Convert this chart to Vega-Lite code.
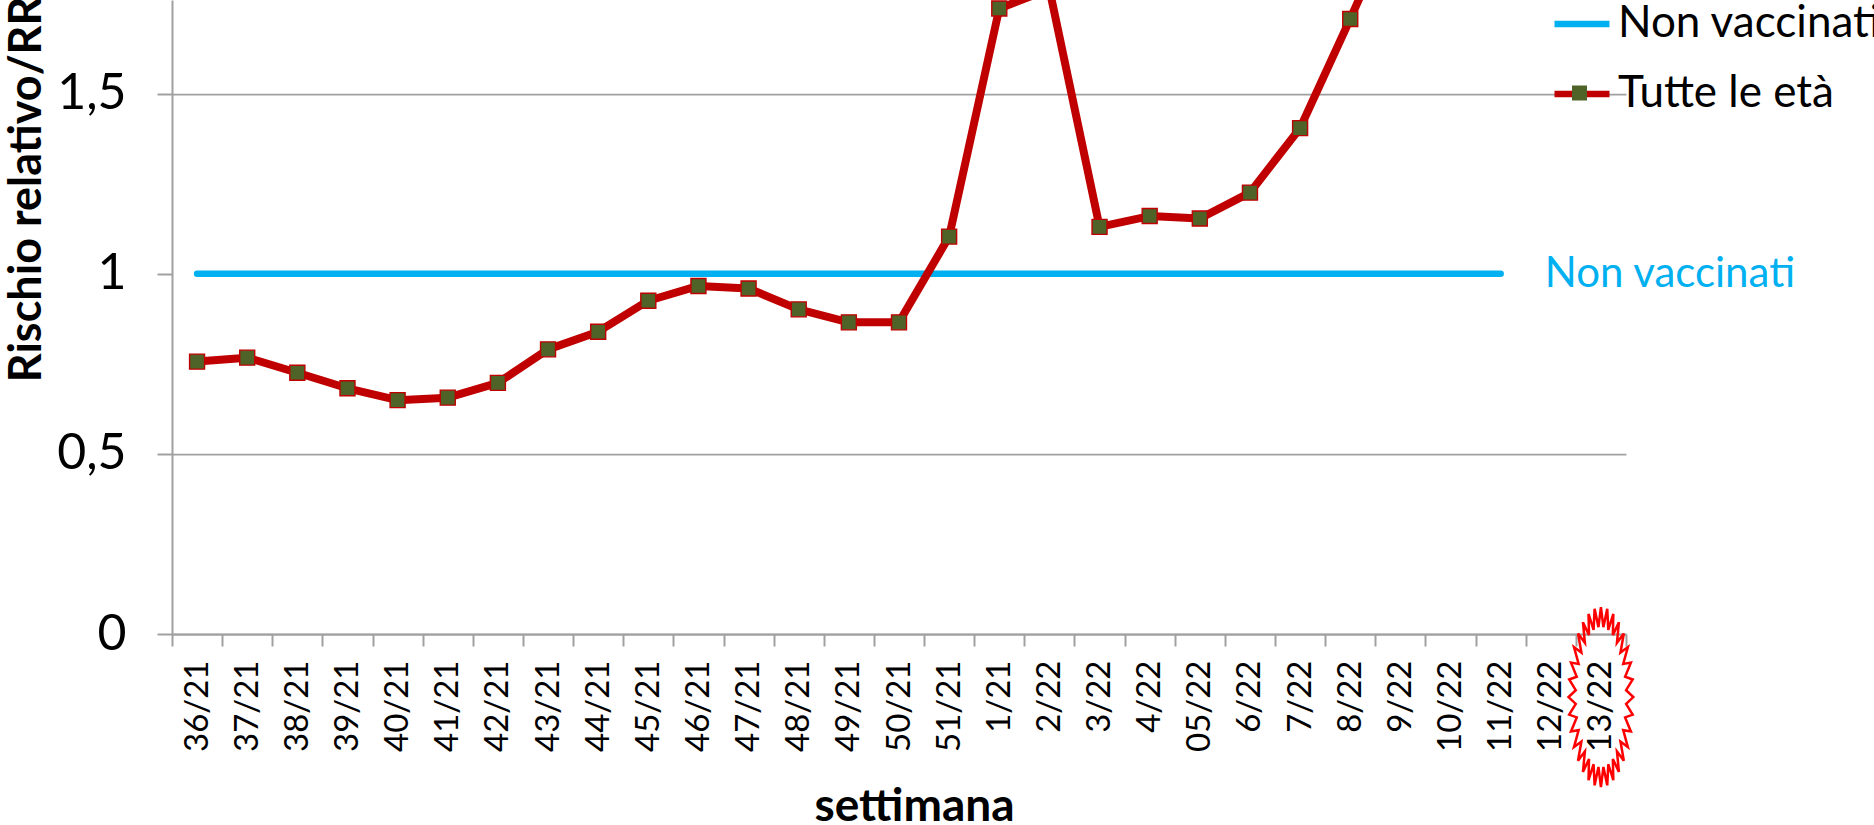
{
  "$schema": "https://vega.github.io/schema/vega-lite/v6.json",
  "width": 1454,
  "height": 634,
  "autosize": "none",
  "padding": {"left": 172, "top": 0, "right": 248, "bottom": 191},
  "background": "white",
  "config": {"view": {"stroke": null}, "font": "Lato"},
  "datasets": {
    "series": [
      {"week": "36/21", "series": "Tutte le età", "rr": 0.756},
      {"week": "37/21", "series": "Tutte le età", "rr": 0.767},
      {"week": "38/21", "series": "Tutte le età", "rr": 0.725},
      {"week": "39/21", "series": "Tutte le età", "rr": 0.682},
      {"week": "40/21", "series": "Tutte le età", "rr": 0.649},
      {"week": "41/21", "series": "Tutte le età", "rr": 0.656},
      {"week": "42/21", "series": "Tutte le età", "rr": 0.697},
      {"week": "43/21", "series": "Tutte le età", "rr": 0.790},
      {"week": "44/21", "series": "Tutte le età", "rr": 0.839},
      {"week": "45/21", "series": "Tutte le età", "rr": 0.925},
      {"week": "46/21", "series": "Tutte le età", "rr": 0.966},
      {"week": "47/21", "series": "Tutte le età", "rr": 0.959},
      {"week": "48/21", "series": "Tutte le età", "rr": 0.901},
      {"week": "49/21", "series": "Tutte le età", "rr": 0.865},
      {"week": "50/21", "series": "Tutte le età", "rr": 0.865},
      {"week": "51/21", "series": "Tutte le età", "rr": 1.103},
      {"week": "1/21", "series": "Tutte le età", "rr": 1.736},
      {"week": "2/22", "series": "Tutte le età", "rr": 1.79},
      {"week": "3/22", "series": "Tutte le età", "rr": 1.130},
      {"week": "4/22", "series": "Tutte le età", "rr": 1.160},
      {"week": "05/22", "series": "Tutte le età", "rr": 1.153},
      {"week": "6/22", "series": "Tutte le età", "rr": 1.225},
      {"week": "7/22", "series": "Tutte le età", "rr": 1.404},
      {"week": "8/22", "series": "Tutte le età", "rr": 1.707},
      {"week": "9/22", "series": "Tutte le età", "rr": 2.02},
      {"week": "36/21", "series": "Non vaccinati", "rr": 1},
      {"week": "37/21", "series": "Non vaccinati", "rr": 1},
      {"week": "38/21", "series": "Non vaccinati", "rr": 1},
      {"week": "39/21", "series": "Non vaccinati", "rr": 1},
      {"week": "40/21", "series": "Non vaccinati", "rr": 1},
      {"week": "41/21", "series": "Non vaccinati", "rr": 1},
      {"week": "42/21", "series": "Non vaccinati", "rr": 1},
      {"week": "43/21", "series": "Non vaccinati", "rr": 1},
      {"week": "44/21", "series": "Non vaccinati", "rr": 1},
      {"week": "45/21", "series": "Non vaccinati", "rr": 1},
      {"week": "46/21", "series": "Non vaccinati", "rr": 1},
      {"week": "47/21", "series": "Non vaccinati", "rr": 1},
      {"week": "48/21", "series": "Non vaccinati", "rr": 1},
      {"week": "49/21", "series": "Non vaccinati", "rr": 1},
      {"week": "50/21", "series": "Non vaccinati", "rr": 1},
      {"week": "51/21", "series": "Non vaccinati", "rr": 1},
      {"week": "1/21", "series": "Non vaccinati", "rr": 1},
      {"week": "2/22", "series": "Non vaccinati", "rr": 1},
      {"week": "3/22", "series": "Non vaccinati", "rr": 1},
      {"week": "4/22", "series": "Non vaccinati", "rr": 1},
      {"week": "05/22", "series": "Non vaccinati", "rr": 1},
      {"week": "6/22", "series": "Non vaccinati", "rr": 1},
      {"week": "7/22", "series": "Non vaccinati", "rr": 1},
      {"week": "8/22", "series": "Non vaccinati", "rr": 1},
      {"week": "9/22", "series": "Non vaccinati", "rr": 1},
      {"week": "10/22", "series": "Non vaccinati", "rr": 1},
      {"week": "11/22", "series": "Non vaccinati", "rr": 1}
    ],
    "annotation": [
      {"week": "12/22", "rr": 1, "label": "Non vaccinati"}
    ],
    "highlight": [
      {"week": "13/22", "rr": -0.175}
    ]
  },
  "encoding": {
    "x": {
      "field": "week",
      "type": "ordinal",
      "sort": null,
      "scale": {
        "domain": ["36/21","37/21","38/21","39/21","40/21","41/21","42/21","43/21","44/21","45/21","46/21","47/21","48/21","49/21","50/21","51/21","1/21","2/22","3/22","4/22","05/22","6/22","7/22","8/22","9/22","10/22","11/22","12/22","13/22"],
        "paddingInner": 0,
        "paddingOuter": 0
      },
      "axis": {
        "title": "settimana",
        "tickBand": "extent",
        "labelAngle": 270,
        "labelFont": "Lato",
        "labelFontSize": 33,
        "labelColor": "black",
        "labelPadding": 14,
        "tickSize": 12,
        "tickColor": "#a0a0a0",
        "tickWidth": 2,
        "domainColor": "#a0a0a0",
        "domainWidth": 2,
        "grid": false,
        "titleFont": "Lato",
        "titleFontSize": 46,
        "titleFontWeight": "bold",
        "titleColor": "black",
        "titleX": 742,
        "titleY": 186,
        "titleAlign": "center",
        "titleBaseline": "alphabetic"
      }
    },
    "y": {
      "field": "rr",
      "type": "quantitative",
      "scale": {"domain": [0, 1.7596], "nice": false, "zero": true},
      "axis": {
        "values": [0, 0.5, 1, 1.5],
        "labelExpr": "replace(format(datum.value, '.1~f'), '.', ',')",
        "grid": true,
        "gridColor": {"condition": {"test": "datum.value === 1", "value": "transparent"}, "value": "#a0a0a0"},
        "gridWidth": 1.75,
        "domainColor": "#a0a0a0",
        "domainWidth": 2,
        "tickColor": "#a0a0a0",
        "tickWidth": 2,
        "tickSize": 15,
        "labelFont": "Lato",
        "labelFontSize": 50,
        "labelColor": "black",
        "labelPadding": 31,
        "title": "Rischio relativo/RR",
        "titleFont": "Lato",
        "titleFontSize": 45,
        "titleFontWeight": "bold",
        "titleColor": "black",
        "titleAngle": 270,
        "titleX": -146,
        "titleY": -4,
        "titleAlign": "right",
        "titleBaseline": "middle"
      }
    }
  },
  "layer": [
    {
      "data": {"name": "series"},
      "transform": [{"filter": "datum.series === 'Non vaccinati'"}],
      "mark": {"type": "line", "strokeWidth": 6.5, "strokeCap": "round", "strokeJoin": "round", "clip": true},
      "encoding": {
        "color": {
          "field": "series",
          "type": "nominal",
          "scale": {"domain": ["Non vaccinati", "Tutte le età"], "range": ["#00b0f0", "#c00000"]},
          "legend": {
            "title": null,
            "orient": "none",
            "legendX": 1379,
            "legendY": -7,
            "padding": 0,
            "symbolType": "stroke",
            "symbolSize": 3025,
            "symbolStrokeWidth": 6.5,
            "labelFont": "Lato",
            "labelFontSize": 44,
            "labelColor": "black",
            "labelOffset": 5,
            "rowPadding": 17,
            "labelLimit": 1000
          }
        }
      }
    },
    {
      "data": {"name": "series"},
      "transform": [{"filter": "datum.series === 'Tutte le età'"}],
      "mark": {"type": "line", "strokeWidth": 8, "strokeJoin": "round", "clip": true},
      "encoding": {
        "color": {"field": "series", "type": "nominal"}
      }
    },
    {
      "data": {"name": "series"},
      "transform": [{"filter": "datum.series === 'Tutte le età' && datum.rr < 1.76"}],
      "mark": {"type": "point", "filled": true, "fill": "#4f6228", "stroke": "#c00000", "strokeWidth": 1.4, "size": 225, "opacity": 1, "fillOpacity": 1, "strokeOpacity": 1, "clip": true},
      "encoding": {
        "shape": {
          "field": "series",
          "type": "nominal",
          "scale": {"domain": ["Tutte le età"], "range": ["square"]},
          "legend": {
            "title": null,
            "orient": "none",
            "legendX": 1399,
            "legendY": 84.5,
            "padding": 0,
            "symbolSize": 225,
            "symbolFillColor": "#4f6228",
            "symbolStrokeColor": "#c00000",
            "symbolStrokeWidth": 1.4,
            "symbolOpacity": 1,
            "labelFontSize": 1,
            "labelOpacity": 0,
            "labelOffset": 0
          }
        }
      }
    },
    {
      "data": {"name": "annotation"},
      "mark": {"type": "text", "align": "left", "baseline": "middle", "dx": -6, "font": "Lato", "fontSize": 42, "color": "#00b0f0"},
      "encoding": {"text": {"field": "label"}}
    },
    {
      "data": {"name": "highlight"},
      "mark": {
        "type": "point",
        "filled": false,
        "stroke": "#ff0000",
        "strokeWidth": 2.5,
        "opacity": 1,
        "size": 32400,
        "shape": "M0,-1L0.0275,-0.7763L0.0702,-0.9808L0.0815,-0.7464L0.1378,-0.9239L0.1324,-0.6879L0.2,-0.8315L0.1781,-0.6029L0.2546,-0.7071L0.2171,-0.4948L0.2993,-0.5556L0.2476,-0.3677L0.3326,-0.3827L0.2687,-0.2264L0.3531,-0.1951L0.2795,-0.0764L0.36,0L0.2795,0.0764L0.3531,0.1951L0.2687,0.2264L0.3326,0.3827L0.2476,0.3677L0.2993,0.5556L0.2171,0.4948L0.2546,0.7071L0.1781,0.6029L0.2,0.8315L0.1324,0.6879L0.1378,0.9239L0.0815,0.7464L0.0702,0.9808L0.0275,0.7763L0,1L-0.0275,0.7763L-0.0702,0.9808L-0.0815,0.7464L-0.1378,0.9239L-0.1324,0.6879L-0.2,0.8315L-0.1781,0.6029L-0.2546,0.7071L-0.2171,0.4948L-0.2993,0.5556L-0.2476,0.3677L-0.3326,0.3827L-0.2687,0.2264L-0.3531,0.1951L-0.2795,0.0764L-0.36,0L-0.2795,-0.0764L-0.3531,-0.1951L-0.2687,-0.2264L-0.3326,-0.3827L-0.2476,-0.3677L-0.2993,-0.5556L-0.2171,-0.4948L-0.2546,-0.7071L-0.1781,-0.6029L-0.2,-0.8315L-0.1324,-0.6879L-0.1378,-0.9239L-0.0815,-0.7464L-0.0702,-0.9808L-0.0275,-0.7763Z"
      },
      "encoding": {}
    }
  ]
}
